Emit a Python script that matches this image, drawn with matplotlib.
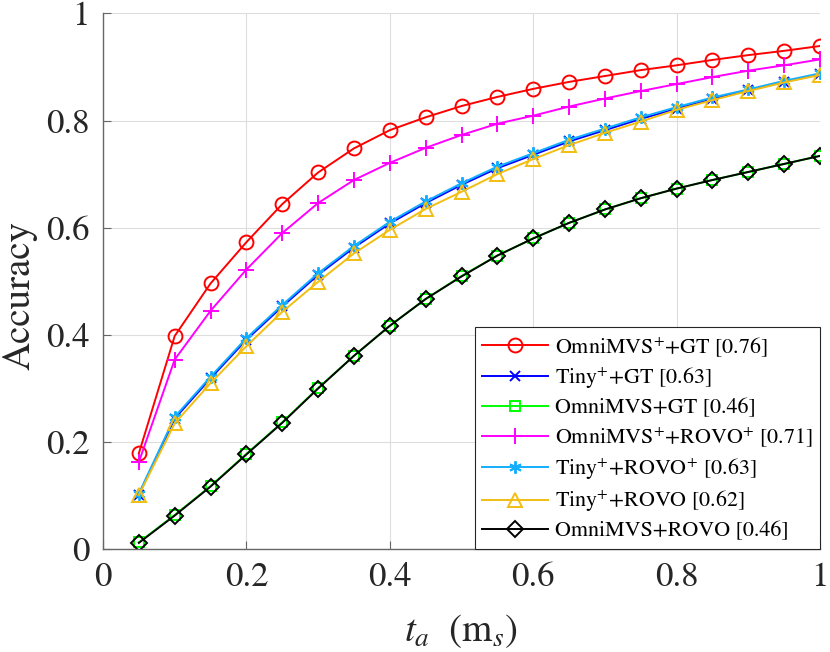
import numpy as np
import matplotlib
matplotlib.use("Agg")
import matplotlib.pyplot as plt

plt.rcParams['font.family'] = ['STIXGeneral', 'DejaVu Serif']
plt.rcParams['mathtext.fontset'] = 'stix'

t = [0.05, 0.10, 0.15, 0.20, 0.25, 0.30, 0.35, 0.40, 0.45, 0.50,
     0.55, 0.60, 0.65, 0.70, 0.75, 0.80, 0.85, 0.90, 0.95, 1.00]

omni_plus_gt = [0.179, 0.398, 0.496, 0.573, 0.644, 0.703, 0.748, 0.782, 0.806, 0.827,
                0.844, 0.859, 0.872, 0.883, 0.894, 0.903, 0.913, 0.922, 0.930, 0.939]
tiny_plus_gt = [0.102, 0.244, 0.319, 0.391, 0.453, 0.512, 0.563, 0.608, 0.646, 0.680,
                0.711, 0.736, 0.761, 0.782, 0.803, 0.822, 0.840, 0.856, 0.872, 0.886]
omni_gt = [0.013, 0.064, 0.118, 0.178, 0.237, 0.301, 0.361, 0.417, 0.467, 0.510,
           0.548, 0.580, 0.609, 0.634, 0.655, 0.673, 0.689, 0.704, 0.719, 0.734]
omni_plus_rovo_plus = [0.163, 0.354, 0.445, 0.522, 0.590, 0.646, 0.689, 0.721, 0.749, 0.773,
                       0.794, 0.809, 0.826, 0.841, 0.855, 0.868, 0.881, 0.893, 0.903, 0.914]
tiny_plus_rovo_plus = [0.104, 0.247, 0.322, 0.394, 0.456, 0.515, 0.566, 0.611, 0.649, 0.683,
                       0.714, 0.739, 0.764, 0.785, 0.806, 0.825, 0.843, 0.858, 0.874, 0.888]
tiny_plus_rovo = [0.101, 0.235, 0.310, 0.379, 0.443, 0.499, 0.552, 0.596, 0.635, 0.667,
                  0.700, 0.728, 0.754, 0.777, 0.798, 0.820, 0.838, 0.855, 0.871, 0.885]
omni_rovo = [0.012, 0.063, 0.117, 0.177, 0.236, 0.300, 0.361, 0.417, 0.467, 0.509,
             0.548, 0.580, 0.609, 0.634, 0.655, 0.673, 0.689, 0.704, 0.719, 0.734]

labels = ["OmniMVS$^{+}$+GT [0.76]",
          "Tiny$^{+}$+GT [0.63]",
          "OmniMVS+GT [0.46]",
          "OmniMVS$^{+}$+ROVO$^{+}$ [0.71]",
          "Tiny$^{+}$+ROVO$^{+}$ [0.63]",
          "Tiny$^{+}$+ROVO [0.62]",
          "OmniMVS+ROVO [0.46]"]
series = [omni_plus_gt, tiny_plus_gt, omni_gt, omni_plus_rovo_plus,
          tiny_plus_rovo_plus, tiny_plus_rovo, omni_rovo]
colors = ['#FF0000', '#0000FF', '#00FF00', '#FF00FF', '#12AEFF', '#F2BE12', '#000000']
markers = ['o', 'x', 's', '+', (6, 2, 0), '^', 'D']
msizes = [10, 7, 7, 11, 9, 10, 8]

xticks = [0, 0.2, 0.4, 0.6, 0.8, 1]
xticklabels = ['0', '0.2', '0.4', '0.6', '0.8', '1']
yticks = [0, 0.2, 0.4, 0.6, 0.8, 1]
yticklabels = ['0', '0.2', '0.4', '0.6', '0.8', '1']

fig = plt.figure(figsize=(8.3, 6.52), dpi=100)
ax = fig.add_axes([0.1241, 0.1575, 0.8639, 0.8221])

for y, lab, c, m, ms in zip(series, labels, colors, markers, msizes):
    ax.plot(t, y, color=c, marker=m, markersize=ms, markerfacecolor='none',
            markeredgecolor=c, markeredgewidth=1.4, linewidth=1.4, label=lab)

ax.set_xlim(0, 1)
ax.set_ylim(0, 1)
ax.set_xticks(xticks)
ax.set_xticklabels(xticklabels)
ax.set_yticks(yticks)
ax.set_yticklabels(yticklabels)
ax.tick_params(direction='in', length=6, width=0.8, color='#666666',
               labelsize=25, labelcolor='#262626')
ax.tick_params(axis='x', pad=9)
ax.tick_params(axis='y', pad=9.5)
ax.grid(True, color='#DDDDDD', linewidth=0.8)
ax.set_axisbelow(True)
for s in ['top', 'right']:
    ax.spines[s].set_visible(False)
for s in ['left', 'bottom']:
    ax.spines[s].set_color('#666666')
    ax.spines[s].set_linewidth(1.0)

ax.set_ylabel('Accuracy', fontsize=28, color='#262626')
ax.yaxis.set_label_coords(-0.092, 0.473)
ax.set_xlabel(r'$t_a\ \ (\mathrm{m}_s)$', fontsize=28, color='#262626', labelpad=13)

leg = ax.legend(loc='lower right', fontsize=15.8, frameon=True, fancybox=False,
                edgecolor='#262626', framealpha=1, handlelength=3.0,
                borderaxespad=0.0, labelspacing=0.32, handletextpad=0.3,
                borderpad=0.35)
leg.get_frame().set_linewidth(0.8)

fig.savefig('out.png', dpi=100)
